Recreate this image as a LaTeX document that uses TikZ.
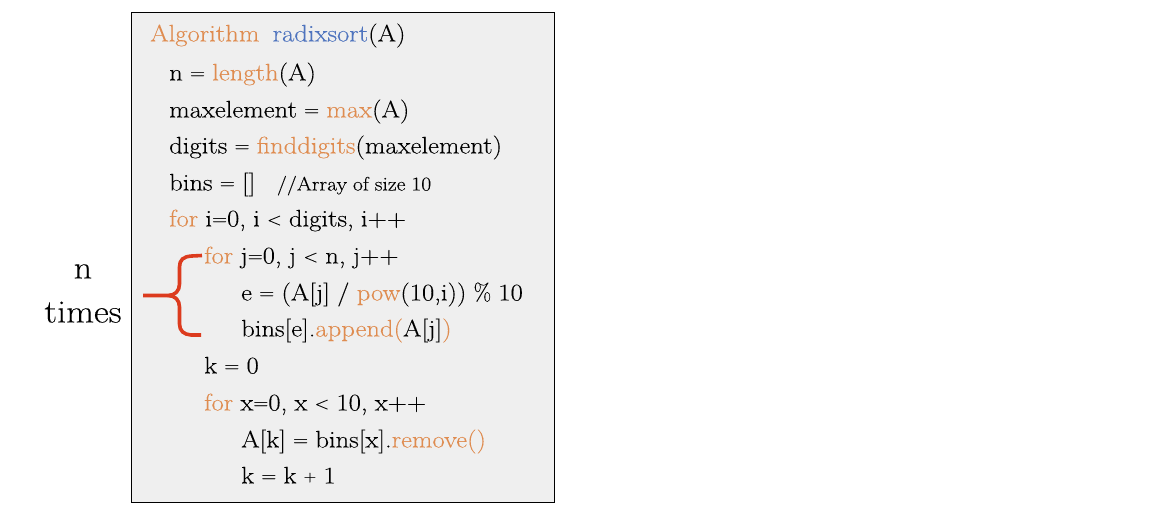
\documentclass[tikz,border=0pt]{standalone}
\usepackage{fontspec}
\setmainfont{Latin Modern Roman}[FakeStretch=1.11,FakeBold=0.12,WordSpace=0.9]
\definecolor{kw}{HTML}{DF8C50}
\definecolor{fn}{HTML}{4F74BE}
\definecolor{brc}{HTML}{DC3B1E}
\definecolor{boxbg}{HTML}{EFEFEF}
\newcommand{\notesize}{\fontsize{19.5pt}{22pt}\selectfont}
\newcommand{\LT}{\raisebox{1.6pt}{\scalebox{0.72}{<}}}
\newcommand{\EQ}{\raisebox{1.6pt}{\scalebox{0.78}[0.8]{=}}}
\newcommand{\PL}{\raisebox{2pt}{\scalebox{0.65}{+}}}
\tikzset{
  codeline/.style={anchor=base west,inner sep=0pt,font=\fontsize{24pt}{28pt}\selectfont,text=black},
  sidetext/.style={anchor=base,inner sep=0pt,font=\fontsize{32.5pt}{38pt}\selectfont},
  bracestroke/.style={draw=brc,line width=3.6pt,line cap=butt,line join=round}
}
\newcommand{\K}[1]{\textcolor{kw}{#1}}
\newcommand{\F}[1]{\textcolor{fn}{#1}}
\begin{document}
\begin{tikzpicture}[x=1pt,y=-1pt]
\useasboundingbox (0,0) rectangle (1176,518);
\fill[white] (0,0) rectangle (1176,518);
\node[draw=black,line width=0.9pt,fill=boxbg,minimum width=423pt,minimum height=490pt,anchor=north west,inner sep=0pt] (box) at (131,12) {};
\node[codeline] (l1) at (150,41.5) {\K{Algorithm}\hspace{0.55em}\F{radixsort}(A)};
\node[codeline] (l2) at (169,80.5) {n \EQ{} \K{length}(A)};
\node[codeline] (l3) at (169,117.5) {maxelement \EQ{} \K{max}(A)};
\node[codeline] (l4) at (169,153.5) {digits \EQ{} \K{finddigits}(maxelement)};
\node[codeline] (l5) at (169,190.5) {bins \EQ{} []\hspace{0.9em}{\notesize //Array of size 10}};
\node[codeline] (l6) at (169,226.5) {\K{for} i\EQ{}0, i \LT{} digits, i++};
\node[codeline] (l7) at (204,263.5) {\K{for} j\EQ{}0, j \LT{} n, j++};
\node[codeline] (l8) at (241,300.5) {e \EQ{} (A[j] / \K{pow}(10,i)) \scalebox{0.85}[1]{\%} 10};
\node[codeline] (l9) at (241,336.5) {bins[e].\K{append(}A[j]\K{)}};
\node[codeline] (l10) at (204,373.5) {k \EQ{} 0};
\node[codeline] (l11) at (204,410.5) {\K{for} x\EQ{}0, x \LT{} 10, x++};
\node[codeline] (l12) at (241,447.5) {A[k] \EQ{} bins[x].\K{remove()}};
\node[codeline] (l13) at (241,483.5) {k \EQ{} k \PL{} 1};
\node[sidetext] (n) at (83,278.5) {n};
\node[sidetext] (t) at (83,322.5) {times};
\draw[bracestroke] (202,255.5) -- (192,256) .. controls (183,256.5) and (179.5,260) .. (179.5,267) -- (179.5,284) .. controls (179.5,291) and (175,295.5) .. (168,295.5) -- (143,295.5);
\draw[bracestroke] (168,295.5) .. controls (175,295.5) and (179.5,300) .. (179.5,307) -- (179.5,324) .. controls (179.5,331) and (184,334.5) .. (191,335) -- (201,335);
\end{tikzpicture}
\end{document}
